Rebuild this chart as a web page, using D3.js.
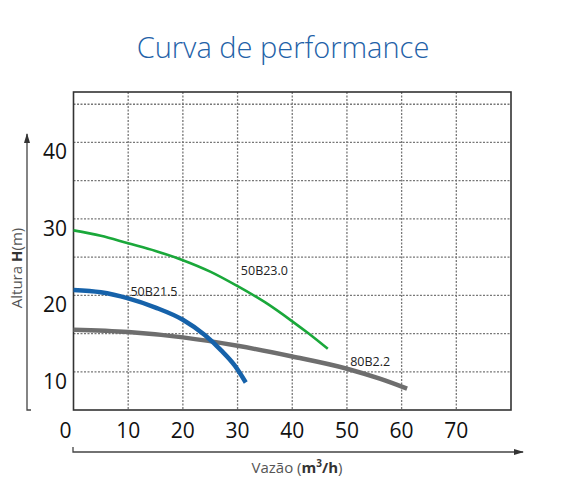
<!DOCTYPE html>
<html><head><meta charset="utf-8">
<script src="https://cdn.jsdelivr.net/npm/d3@7"></script>
<style>body{margin:0;background:#fff}</style></head>
<body><svg id="c" width="561" height="491"></svg>
<script>
const xTicks=[0,10,20,30,40,50,60,70];
const yTicks=[10,20,30,40];
const gridY=[10,15,20,25,30,35,40,45];
const s50B23=[[0,28.5],[5,27.8],[10,26.8],[15,25.8],[20,24.6],[25,23.1],[30,21.2],[35,19.1],[40,16.6],[43,15],[46.5,13]];
const s50B21=[[0,20.7],[5,20.4],[10,19.6],[15,18.4],[20,16.8],[24,14.8],[27,12.8],[29.5,10.8],[31.5,8.6]];
const s80B2=[[0,15.5],[10,15.2],[20,14.5],[30,13.4],[40,12.0],[50,10.4],[56,9.1],[61,7.8]];
const names=["50B23.0","50B21.5","80B2.2"];
const svg=d3.select("#c");
const x=d3.scaleLinear().domain([0,80]).range([73.5,511]);
const y=d3.scaleLinear().domain([5,46.6]).range([410,92]);
svg.append("g").selectAll("line").data(xTicks.slice(1)).join("line")
 .attr("x1",d=>x(d)).attr("x2",d=>x(d)).attr("y1",92).attr("y2",410)
 .attr("stroke","#777").attr("stroke-width",1.3).attr("stroke-dasharray","2,1.5");
svg.append("g").selectAll("line").data(gridY).join("line")
 .attr("y1",d=>y(d)).attr("y2",d=>y(d)).attr("x1",73.5).attr("x2",511)
 .attr("stroke","#777").attr("stroke-width",1.3).attr("stroke-dasharray","2,1.5");
svg.append("rect").attr("x",73.5).attr("y",92).attr("width",437.5).attr("height",318)
 .attr("fill","none").attr("stroke","#333").attr("stroke-width",1.6);
const line=d3.line().x(d=>x(d[0])).y(d=>y(d[1])).curve(d3.curveMonotoneX);
const series=[[s50B23,"#1aa83a",2.6],[s80B2,"#6e6e6e",4.5],[s50B21,"#1662aa",4.5]];
series.forEach(([d,c,w])=>svg.append("path").attr("d",line(d)).attr("fill","none").attr("stroke",c).attr("stroke-width",w));
const lab=[[names[1],10.4,19.9],[names[0],30.6,22.7],[names[2],50.6,10.8]];
svg.selectAll("text.l").data(lab).join("text").attr("x",d=>x(d[1])).attr("y",d=>y(d[2]))
 .text(d=>d[0]).attr("font-family","Open Sans").attr("font-size",12.5).attr("fill","#222");
svg.selectAll("text.x").data(xTicks).join("text").attr("x",d=>d===0?x(d)-8:x(d)).attr("y",438)
 .attr("text-anchor","middle").text(d=>d).attr("font-family","Open Sans").attr("font-size",21).attr("font-weight",500).attr("fill","#111");
svg.selectAll("text.y").data(yTicks).join("text").attr("x",67).attr("y",d=>y(d)+17)
 .attr("text-anchor","end").text(d=>d).attr("font-family","Open Sans").attr("font-size",21).attr("font-weight",500).attr("fill","#111");
svg.append("defs").append("marker").attr("id","ar").attr("viewBox","0 0 10 10").attr("refX",9).attr("refY",5)
 .attr("markerWidth",8).attr("markerHeight",8).attr("orient","auto-start-reverse")
 .append("path").attr("d","M0,2 L10,5 L0,8 Z").attr("fill","#333");
svg.append("path").attr("d","M31,410 L27,410 L27,134").attr("fill","none").attr("stroke","#444").attr("stroke-width",1.3).attr("marker-end","url(#ar)");
svg.append("path").attr("d","M73,447 L73,452 L523,452").attr("fill","none").attr("stroke","#444").attr("stroke-width",1.3).attr("marker-end","url(#ar)");
const yt=svg.append("text").attr("transform","translate(22,268) rotate(-90)").attr("text-anchor","middle")
 .attr("font-family","Open Sans").attr("font-size",15).attr("fill","#555");
yt.append("tspan").text("Altura ");yt.append("tspan").attr("font-weight",700).attr("fill","#333").text("H");yt.append("tspan").text("(m)");
const xt=svg.append("text").attr("x",297).attr("y",473).attr("text-anchor","middle").attr("font-family","Open Sans").attr("font-size",15).attr("fill","#555");
xt.append("tspan").text("Vazão (");xt.append("tspan").attr("font-weight",700).attr("fill","#333").text("m");
xt.append("tspan").attr("font-weight",700).attr("fill","#333").attr("font-size",10).attr("dy",-6).text("3");
xt.append("tspan").attr("font-weight",700).attr("fill","#333").attr("dy",6).text("/h");xt.append("tspan").text(")");
svg.append("text").attr("x",283).attr("y",58).attr("text-anchor","middle").attr("font-family","Open Sans")
 .attr("font-size",29).attr("font-weight",300).attr("fill","#1f62a8").text("Curva de performance");
</script></body></html>
